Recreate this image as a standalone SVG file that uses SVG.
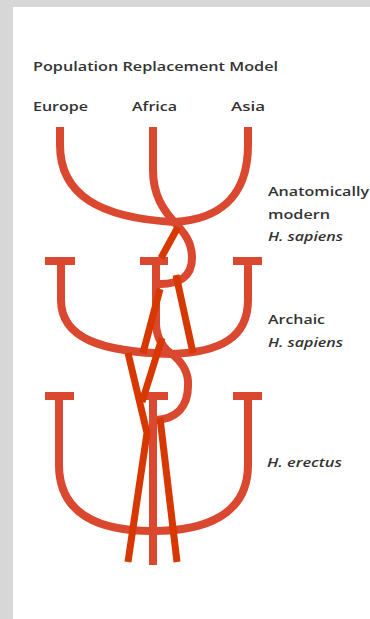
<svg xmlns="http://www.w3.org/2000/svg" width="370" height="619" viewBox="0 0 370 619">
<defs>
<style>
.txt{font-family:"Open Sans","DejaVu Sans",sans-serif;fill:#333333;font-size:13px;font-weight:600}
.it{font-style:italic}
.tree{fill:none;stroke:#d9482f;stroke-width:8;stroke-linecap:butt;stroke-linejoin:round}
.bar{fill:#d9482f}
.ov{stroke:#d63800;stroke-width:7;stroke-linecap:butt}
</style>
</defs>
<rect x="0" y="0" width="370" height="619" fill="#d7d7d7"/>
<rect x="13" y="7" width="357" height="612" fill="#ffffff"/>

<g id="title">
<text class="txt" x="33" y="71" textLength="245" lengthAdjust="spacingAndGlyphs">Population Replacement Model</text>
</g>
<g id="regions">
<text class="txt" x="33" y="111" textLength="55" lengthAdjust="spacingAndGlyphs">Europe</text>
<text class="txt" x="132" y="111" textLength="45" lengthAdjust="spacingAndGlyphs">Africa</text>
<text class="txt" x="231" y="111" textLength="34" lengthAdjust="spacingAndGlyphs">Asia</text>
</g>

<g id="tree-modern">
<path class="tree" d="M60,127 V145 C60,195 100,218 174,222"/>
<path class="tree" d="M248,127 V145 C248,200 215,220 174,222"/>
<path class="tree" d="M153,127 V170 C153,200 168,214 174,222 C184,232 192,242 192,258 C192,276 180,285 157,284"/>
</g>
<g id="label-modern">
<text class="txt" x="268" y="196" textLength="101" lengthAdjust="spacingAndGlyphs">Anatomically</text>
<text class="txt" x="268" y="219" textLength="62" lengthAdjust="spacingAndGlyphs">modern</text>
<text class="txt it" x="268" y="241" textLength="75" lengthAdjust="spacingAndGlyphs">H. sapiens</text>
</g>

<g id="tree-archaic">
<rect class="bar" x="45" y="257" width="30" height="8"/>
<rect class="bar" x="140" y="257" width="28" height="8"/>
<rect class="bar" x="233" y="257" width="29" height="8"/>
<path class="tree" d="M61,262 V300 C61,338 100,352 172,354"/>
<path class="tree" d="M248,262 V300 C248,338 220,352 172,354"/>
<path class="tree" d="M156,262 V325 C157,340 165,350 172,354 C182,362 189,372 188,386 C188,405 178,420 153,420"/>
</g>
<g id="label-archaic">
<text class="txt" x="268" y="324" textLength="57" lengthAdjust="spacingAndGlyphs">Archaic</text>
<text class="txt it" x="268" y="347" textLength="75" lengthAdjust="spacingAndGlyphs">H. sapiens</text>
</g>

<g id="tree-erectus">
<rect class="bar" x="45" y="392" width="29" height="8"/>
<rect class="bar" x="142" y="392" width="26" height="8"/>
<rect class="bar" x="233" y="392" width="29" height="8"/>
<path class="tree" d="M59,396 V465 C59,515 100,531 153,531"/>
<path class="tree" d="M248,396 V465 C248,515 205,531 153,531"/>
<path class="tree" d="M153,396 V565"/>
</g>
<g id="label-erectus">
<text class="txt it" x="267" y="467" textLength="75" lengthAdjust="spacingAndGlyphs">H. erectus</text>
</g>

<g id="connectors">
<line class="ov" x1="178" y1="227" x2="161" y2="258"/>
<line class="ov" x1="176" y1="275" x2="193" y2="353"/>
<line class="ov" x1="160" y1="289" x2="143" y2="353"/>
<line class="ov" x1="162" y1="338" x2="142" y2="402"/>
<polyline class="ov" fill="none" stroke-linejoin="miter" points="128,353 147,433 128,562"/>
<line class="ov" x1="160" y1="418" x2="177" y2="562"/>
</g>
</svg>
